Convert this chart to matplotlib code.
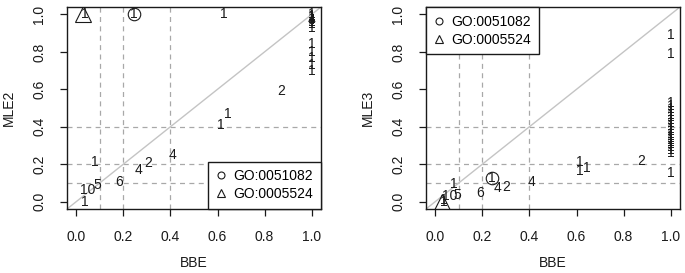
import numpy as np
import matplotlib.pyplot as plt

plt.rcParams['font.family'] = ['Liberation Sans', 'DejaVu Sans']

# left panel: BBE vs MLE2, counts written at each point
bbe_a = [0.035, 0.049, 0.09, 0.077, 0.18, 0.265, 0.305, 0.41, 0.615, 0.645, 0.87, 0.625,
         1.0, 1.0, 1.0, 1.0, 1.0, 1.0, 1.0, 1.0, 1.0, 1.0, 1.0, 1.0, 1.0]
mle2 = [0.0, 0.064, 0.09, 0.21, 0.107, 0.166, 0.208, 0.25, 0.41, 0.47, 0.59, 1.0,
        0.70, 0.73, 0.77, 0.80, 0.84, 0.93, 0.95, 0.96, 0.975, 0.985, 0.99, 1.0, 0.97]
lab_a = ['1', '10', '5', '1', '6', '4', '2', '4', '1', '1', '2', '1',
         '1', '1', '1', '1', '1', '1', '1', '1', '1', '1', '1', '1', '4']

# right panel: BBE vs MLE3
col3 = [0.26, 0.275, 0.29, 0.305, 0.32, 0.33, 0.34, 0.35, 0.36, 0.375, 0.39,
        0.405, 0.42, 0.435, 0.45, 0.465, 0.48, 0.495, 0.51, 0.525]
bbe_b = [0.034, 0.06, 0.095, 0.077, 0.19, 0.265, 0.30, 0.41, 0.615, 0.615, 0.645,
         0.875, 1.0, 1.0, 1.0] + [1.0] * len(col3)
mle3 = [0.01, 0.03, 0.037, 0.096, 0.048, 0.07, 0.08, 0.107, 0.21, 0.165, 0.18,
        0.215, 0.155, 0.79, 0.89] + col3
lab_b = ['1', '10', '5', '1', '6', '4', '2', '4', '1', '1', '1',
         '2', '1', '1', '1'] + ['1'] * len(col3)

# highlighted GO terms (circle = GO:0051082, triangle = GO:0005524)
circ_a = (0.244, 1.0)
tri_a = (0.026, 1.0)
circ_b = (0.24, 0.125)
tri_b = (0.026, 0.0)

grid = [0.1, 0.2, 0.4]
ticks = [0.0, 0.2, 0.4, 0.6, 0.8, 1.0]
ink = '#1a1a1a'
fs = 10

fig = plt.figure(figsize=(6.85, 2.73), dpi=100)
ax1 = fig.add_axes([67 / 685, 1 - 209 / 273, 254 / 685, 202 / 273])
ax2 = fig.add_axes([426 / 685, 1 - 209 / 273, 254 / 685, 202 / 273])


def panel(ax, xs, ys, labs, circ, tri, ylab, legloc):
    ax.set_xlim(-0.04, 1.04)
    ax.set_ylim(-0.04, 1.04)
    for g in grid:
        ax.axvline(g, color='#a8a8a8', lw=0.9, ls=(0, (4, 3.5)), zorder=1)
        ax.axhline(g, color='#a8a8a8', lw=0.9, ls=(0, (4, 3.5)), zorder=1)
    ax.plot([-0.04, 1.04], [-0.04, 1.04], color='#c4c4c4', lw=1.0, zorder=1)
    for x, y, s in zip(xs, ys, labs):
        ax.text(x, y, s, ha='center', va='center', fontsize=fs, color=ink, zorder=3)
    ax.plot(*circ, marker='o', ms=9, mfc='none', mec=ink, mew=0.8, ls='none')
    ax.text(circ[0], circ[1], '1', ha='center', va='center', fontsize=fs, color=ink)
    ax.plot(*tri, marker='^', ms=11, mfc='none', mec=ink, mew=0.8, ls='none')
    ax.text(tri[0] + 0.008, tri[1], '1', ha='center', va='center', fontsize=fs, color=ink)
    h1, = ax.plot([], [], marker='o', ms=5, mfc='none', mec=ink, mew=0.8, ls='none')
    h2, = ax.plot([], [], marker='^', ms=6, mfc='none', mec=ink, mew=0.8, ls='none')
    leg = ax.legend([h1, h2], ['GO:0051082', 'GO:0005524'], loc=legloc,
                    borderaxespad=0, fancybox=False, framealpha=1, fontsize=fs,
                    handlelength=0.8, handletextpad=0.5, labelspacing=0.3,
                    borderpad=0.55)
    leg.get_frame().set_edgecolor(ink)
    leg.get_frame().set_linewidth(1.0)
    ax.set_xticks(ticks)
    ax.set_yticks(ticks)
    ax.set_xticklabels([f'{t:.1f}' for t in ticks])
    ax.set_yticklabels([f'{t:.1f}' for t in ticks], rotation=90, va='center')
    ax.tick_params(direction='out', length=5, width=0.9, labelsize=fs, pad=10,
                   colors=ink)
    for sp in ax.spines.values():
        sp.set_color(ink)
        sp.set_linewidth(1.0)
    ax.set_xlabel('BBE', fontsize=fs, color=ink, labelpad=9)
    ax.set_ylabel(ylab, fontsize=fs, color=ink, labelpad=12)


panel(ax1, bbe_a, mle2, lab_a, circ_a, tri_a, 'MLE2', 'lower right')
panel(ax2, bbe_b, mle3, lab_b, circ_b, tri_b, 'MLE3', 'upper left')

fig.savefig('out.png', dpi=100)
